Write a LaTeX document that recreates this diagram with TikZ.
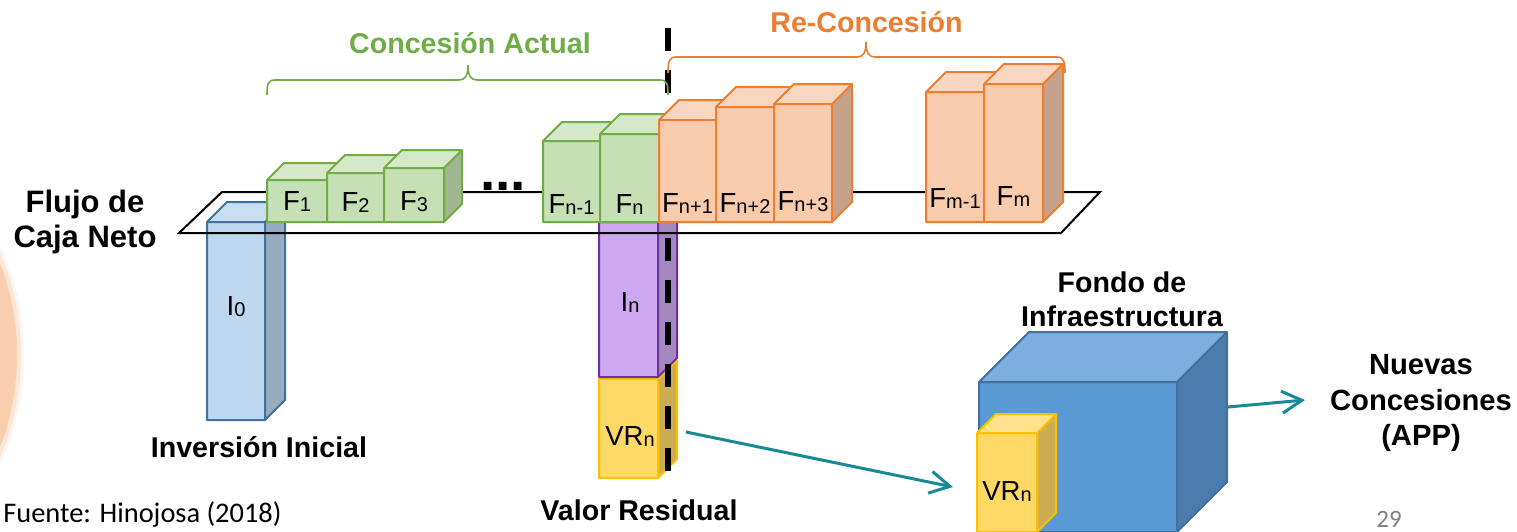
\documentclass[tikz,border=0pt]{standalone}
\usepackage{fontspec}
\setmainfont{Liberation Sans}
\newfontfamily\calib{Carlito}
\usetikzlibrary{arrows.meta}

% box families: front face, top face, side face, outline
\definecolor{grnfront}{RGB}{197,224,180}
\definecolor{grntop}{RGB}{213,232,200}
\definecolor{grnside}{RGB}{160,183,145}
\definecolor{grnline}{RGB}{112,173,71}
\definecolor{orgfront}{RGB}{248,203,173}
\definecolor{orgtop}{RGB}{250,215,193}
\definecolor{orgside}{RGB}{198,162,138}
\definecolor{orgline}{RGB}{237,125,49}
\definecolor{blufront}{RGB}{189,215,238}
\definecolor{blutop}{RGB}{202,222,241}
\definecolor{bluside}{RGB}{151,172,193}
\definecolor{bluline}{RGB}{65,113,156}
\definecolor{purfront}{RGB}{204,168,240}
\definecolor{purtop}{RGB}{214,185,243}
\definecolor{purside}{RGB}{163,136,192}
\definecolor{purline}{RGB}{112,48,160}
\definecolor{yelfront}{RGB}{255,217,102}
\definecolor{yeltop}{RGB}{255,226,140}
\definecolor{yelside}{RGB}{204,174,82}
\definecolor{yelline}{RGB}{255,192,0}
\definecolor{fndfront}{RGB}{91,155,213}
\definecolor{fndtop}{RGB}{124,175,222}
\definecolor{fndside}{RGB}{73,124,171}
\definecolor{fndline}{RGB}{65,113,156}
\definecolor{arrowteal}{RGB}{24,138,150}
\definecolor{discfill}{RGB}{248,206,175}
\definecolor{pagegray}{RGB}{128,128,128}

% cuboid: x-left, x-right, y-top, y-bottom, depth, colour family
\newcommand\cuboid[6]{%
  \fill[#6front] (#1,#3) rectangle (#2,#4);
  \fill[#6top] (#1,#3) -- ({#1+#5},{#3-#5}) -- ({#2+#5},{#3-#5}) -- (#2,#3) -- cycle;
  \fill[#6side] (#2,#3) -- ({#2+#5},{#3-#5}) -- ({#2+#5},{#4-#5}) -- (#2,#4) -- cycle;
  \draw[boxedge,#6line] (#1,#3) rectangle (#2,#4)
    (#1,#3) -- ({#1+#5},{#3-#5}) -- ({#2+#5},{#3-#5}) -- ({#2+#5},{#4-#5}) -- (#2,#4)
    (#2,#3) -- ({#2+#5},{#3-#5});
}
\newcommand\sbs[1]{\raisebox{-0.6pt}{\fontsize{10}{10}\selectfont #1}}

\tikzset{
  boxedge/.style={line width=1pt, line join=round},
  boxlbl/.style={font=\fontsize{13.8}{14}\selectfont, anchor=base, inner sep=0pt},
  title/.style={font=\fontsize{14.3}{17}\selectfont\bfseries, inner sep=0pt, align=center},
  brace/.style={line width=0.8pt},
  flow/.style={arrowteal, line width=1.5pt, -{Straight Barb[length=10pt,width=11pt]}},
}

\begin{document}
\begin{tikzpicture}[x=0.5pt,y=-0.5pt]
\path[use as bounding box] (0,0) rectangle (1517,531);
\fill[white] (0,0) rectangle (1517,531);

\begin{scope}
\clip (0,0) rectangle (1517,531);
% soft disc at the left margin
\fill[discfill, opacity=0.2] (-240,355) circle[radius=264];
\fill[discfill, opacity=0.4] (-240,355) circle[radius=261];
\fill[discfill] (-240,355) circle[radius=257];
\end{scope}

% negative flows below the plane
\cuboid{207}{265}{222}{420}{20}{blu}
\cuboid{599}{658}{379}{478}{19}{yel}
\cuboid{599}{658}{222}{377}{19}{pur}

% cash-flow plane
\draw[line width=1pt] (179,233) -- (1061,233) -- (1100,192) -- (222,192) -- cycle;

% end of the current concession
\draw[line width=3pt, dash pattern=on 11.5pt off 9.5pt] (668,28) -- (668,473);

% positive flows on the plane
\cuboid{267}{327}{180}{222}{17}{grn}
\cuboid{327}{384}{173}{222}{18}{grn}
\cuboid{384}{444}{168}{222}{18}{grn}
\cuboid{543}{600}{141}{222}{19}{grn}
\cuboid{600}{659}{134}{222}{20}{grn}
\cuboid{659}{716}{120}{222}{20}{org}
\cuboid{716}{774}{107}{222}{20}{org}
\cuboid{774}{832}{104}{222}{20}{org}
\cuboid{926}{984}{92}{222}{20}{org}
\cuboid{984}{1043}{84}{222}{20}{org}

% braces over both periods
\draw[brace, grnline] (267,95) .. controls (267,84) and (268,80) .. (275,80) -- (459,80)
  .. controls (465,80) and (468,76) .. (468,65) .. controls (468,76) and (471,80) .. (477,80)
  -- (660,80) .. controls (667,80) and (668,84) .. (668,95);
\draw[brace, orgline] (668,73) .. controls (668,62) and (669,57) .. (676,57) -- (857,57)
  .. controls (863,57) and (866,53) .. (866,42) .. controls (866,53) and (869,57) .. (875,57)
  -- (1057,57) .. controls (1064,57) and (1065,62) .. (1065,73);

% infrastructure fund
\begin{scope}
\clip (0,0) rectangle (1517,531);
\cuboid{979}{1177}{382}{532}{50}{fnd}
\cuboid{977}{1037}{433}{532}{19}{yel}
\end{scope}

% transfers
\coordinate (vrout) at (686,432);
\coordinate (fundin) at (953,487);
\coordinate (fundout) at (1228,407);
\coordinate (appin) at (1305,400);
\draw[flow] (vrout) -- (fundin);
\draw[flow] (fundout) -- (appin);

% box labels
\node[boxlbl] (lf1) at (297,210) {F\sbs{1}};
\node[boxlbl] (lf2) at (355.5,211) {F\sbs{2}};
\node[boxlbl] (lf3) at (414,210) {F\sbs{3}};
\node[boxlbl] (lfn1) at (571.5,213) {F\sbs{n-1}};
\node[boxlbl] (lfn) at (629.5,213) {F\sbs{n}};
\node[boxlbl] (lfn2) at (687.5,212) {F\sbs{n+1}};
\node[boxlbl] (lfn3) at (745,212) {F\sbs{n+2}};
\node[boxlbl] (lfn4) at (803,210) {F\sbs{n+3}};
\node[boxlbl] (lfm1) at (955,207) {F\sbs{m-1}};
\node[boxlbl] (lfm) at (1013.5,205) {F\sbs{m}};
\node[boxlbl] (li0) at (236,315) {I\sbs{0}};
\node[boxlbl] (lin) at (630,311) {I\sbs{n}};
\node[boxlbl] (lvr) at (630,445) {VR\sbs{n}};
\node[boxlbl] (lvr2) at (1007,500) {VR\sbs{n}};
\node[anchor=base, inner sep=0pt, font=\fontsize{27.5}{28}\selectfont\bfseries] (dots) at (503,190) {...};

% titles
\node[title, anchor=base, text=grnline] (actual) at (470,53) {Concesión Actual};
\node[title, anchor=base, text=orgline] (recon) at (866.5,32) {Re-Concesión};
\node[title, font=\fontsize{15.5}{17.5}\selectfont\bfseries] (flujo) at (85,222) {Flujo de\\Caja Neto};
\node[title, anchor=base] (inv) at (259,457) {Inversión Inicial};
\node[title, anchor=base] (valor) at (639,520) {Valor Residual};
\node[title] (fondo) at (1122,299) {Fondo de\\Infraestructura};
\node[title, font=\fontsize{14.6}{17.75}\selectfont\bfseries] (nuevas) at (1421,403) {Nuevas\\Concesiones\\(APP)};

% footer
\node[anchor=base west, inner sep=0pt, font=\calib\fontsize{14.2}{16}\selectfont] (fuente) at (3,522) {Fuente: Hinojosa (2018)};
\node[anchor=base, inner sep=0pt, font=\calib\fontsize{12.5}{14}\selectfont, text=pagegray] (page) at (1389,527) {29};
\end{tikzpicture}
\end{document}
